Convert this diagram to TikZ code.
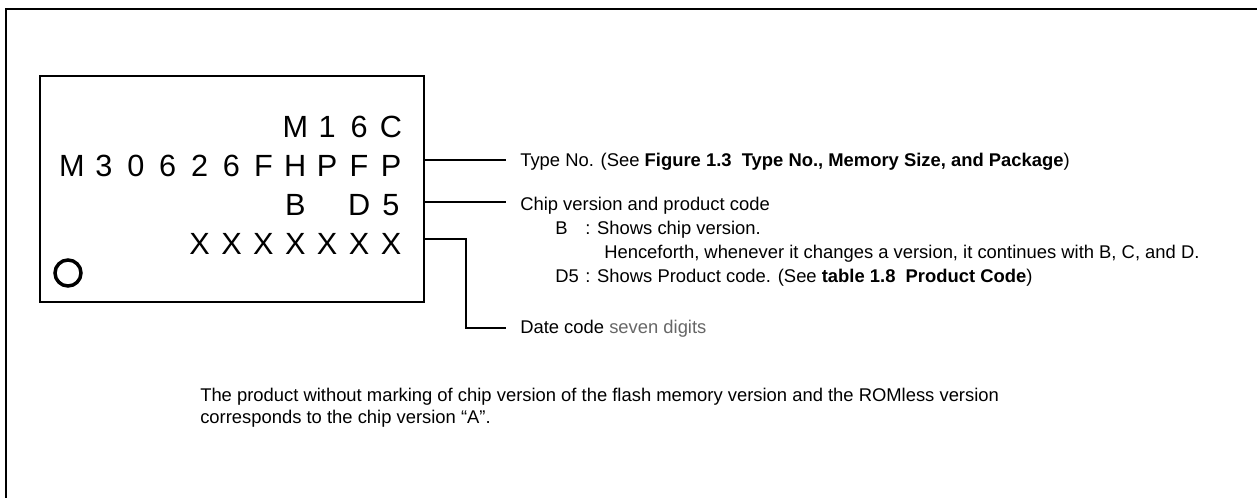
\documentclass[tikz,border=0pt]{standalone}
\usepackage{fontspec}
\setmainfont{Liberation Sans}
\definecolor{digitgray}{HTML}{666666}
\begin{document}
\begin{tikzpicture}[x=0.75pt,y=-0.75pt,
  chipch/.style={anchor=base,inner sep=0,font=\fontsize{23}{27}\selectfont},
  lbl/.style={anchor=base west,inner sep=0,font=\fontsize{13.8}{16}\selectfont},
  leader/.style={line width=1pt}]
\useasboundingbox (0,0) rectangle (1257,497);
\draw[line width=1.7pt] (6,500) -- (6,9) -- (1260,9);

% chip outline
\node[draw,line width=1.5pt,minimum width=288pt,minimum height=169.5pt,inner sep=0] (chip) at (232,189) {};
\node[draw,circle,line width=2.6pt,minimum size=19.5pt,inner sep=0] (pin) at (68,273) {};

% marking rows
\foreach \ch [count=\i from 8] in {M,1,6,C}
  \node[chipch] (top\i) at ({72+31.9*(\i-1)},137) {\ch};
\foreach \ch [count=\i] in {M,3,0,6,2,6,F,H,P,F,P}
  \node[chipch] (type\i) at ({72+31.9*(\i-1)},176) {\ch};
\foreach \ch/\i in {B/8,D/10,5/11}
  \node[chipch] (ver\i) at ({72+31.9*(\i-1)},215) {\ch};
\foreach \i in {5,...,11}
  \node[chipch] (date\i) at ({72+31.9*(\i-1)},254) {X};

% labels
\node[lbl] (typeno) at (520,166) {Type No. (See \textbf{Figure 1.3\ \ Type No., Memory Size, and Package})};
\node[lbl] (chipver) at (520,210) {Chip version and product code};
\node[lbl] (verb) at (555,234) {B};
\node[lbl] (verbtxt) at (585,234) {: Shows chip version.};
\node[lbl] (verhence) at (604,258) {Henceforth, whenever it changes a version, it continues with B, C, and D.};
\node[lbl] (verd) at (555,282) {D5};
\node[lbl] (verdtxt) at (585,282) {: Shows Product code. (See \textbf{table 1.8\ \ Product Code})};
\node[lbl] (datecode) at (520,333) {Date code \textcolor{digitgray}{seven digits}};
\node[lbl] (note1) at (200,401) {The product without marking of chip version of the flash memory version and the ROMless version};
\node[lbl] (note2) at (200,423) {corresponds to the chip version “A”.};

% leaders
\coordinate (typeend) at (506,160);
\coordinate (verend) at (506,202);
\coordinate (datebend) at (466,239);
\coordinate (dateend) at (506,328);
\draw[leader] (chip.east |- typeend) -- (typeend);
\draw[leader] (chip.east |- verend) -- (verend);
\draw[leader] (chip.east |- datebend) -- (datebend) |- (dateend);
\end{tikzpicture}
\end{document}
